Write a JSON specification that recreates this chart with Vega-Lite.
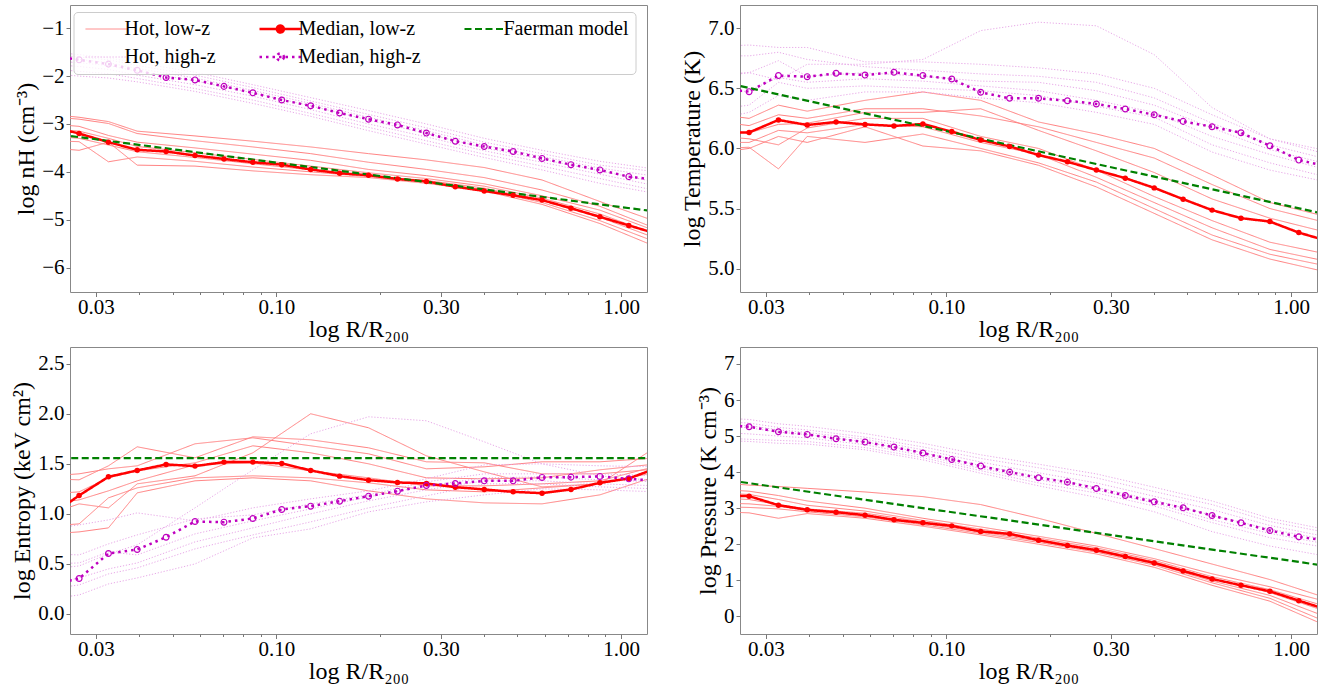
{
"$schema":"https://vega.github.io/schema/vega-lite/v6.json",
"padding":{"left":10,"top":4,"right":5,"bottom":0},
"background":"white",
"config":{
"font":"Liberation Serif",
"view":{"stroke":"#888888","strokeWidth":1},
"axis":{"labelFont":"Liberation Serif","titleFont":"Liberation Serif","labelFontSize":21,"titleFontSize":24,"titleFontWeight":"normal","labelColor":"black","titleColor":"black","domain":false,"grid":false,"tickColor":"#777777"},
"axisX":{"labelPadding":0,"titlePadding":0,"labelFlush":false,"labelOverlap":false},
"axisY":{"labelPadding":2,"titlePadding":3,"tickSize":4},
"legend":{"orient":"none","legendX":3.5,"legendY":7,"columns":3,"columnPadding":38,"rowPadding":8,"padding":7,"strokeColor":"#cccccc","fillColor":"rgba(255,255,255,0.8)","cornerRadius":4,"labelFont":"Liberation Serif","labelFontSize":20,"labelColor":"black","symbolType":"M-1,0H7.34","symbolSize":100,"labelOffset":24,"gridAlign":"each","labelLimit":300}
},
"datasets":{
"n":[
{"s":"a","g":1,"x":0.0221,"y":-2.8},{"s":"a","g":1,"x":0.0268,"y":-2.86},{"s":"a","g":1,"x":0.0326,"y":-2.95},{"s":"a","g":1,"x":0.0395,"y":-3.15},{"s":"a","g":1,"x":0.0581,"y":-3.25},{"s":"a","g":1,"x":0.0855,"y":-3.36},{"s":"a","g":1,"x":0.1258,"y":-3.48},{"s":"a","g":1,"x":0.1851,"y":-3.62},{"s":"a","g":1,"x":0.2723,"y":-3.75},{"s":"a","g":1,"x":0.4007,"y":-3.91},{"s":"a","g":1,"x":0.5895,"y":-4.17},{"s":"a","g":1,"x":0.8674,"y":-4.62},{"s":"a","g":1,"x":1.276,"y":-5.05},
{"s":"a","g":2,"x":0.0221,"y":-2.85},{"s":"a","g":2,"x":0.0268,"y":-2.9},{"s":"a","g":2,"x":0.0326,"y":-2.99},{"s":"a","g":2,"x":0.0395,"y":-3.2},{"s":"a","g":2,"x":0.0581,"y":-3.35},{"s":"a","g":2,"x":0.0855,"y":-3.48},{"s":"a","g":2,"x":0.1258,"y":-3.62},{"s":"a","g":2,"x":0.1851,"y":-3.8},{"s":"a","g":2,"x":0.2723,"y":-3.95},{"s":"a","g":2,"x":0.4007,"y":-4.12},{"s":"a","g":2,"x":0.5895,"y":-4.38},{"s":"a","g":2,"x":0.8674,"y":-4.72},{"s":"a","g":2,"x":1.276,"y":-5.2},
{"s":"a","g":3,"x":0.0221,"y":-3.0},{"s":"a","g":3,"x":0.0268,"y":-3.05},{"s":"a","g":3,"x":0.0326,"y":-3.24},{"s":"a","g":3,"x":0.0395,"y":-3.38},{"s":"a","g":3,"x":0.0581,"y":-3.5},{"s":"a","g":3,"x":0.0855,"y":-3.63},{"s":"a","g":3,"x":0.1258,"y":-3.76},{"s":"a","g":3,"x":0.1851,"y":-3.95},{"s":"a","g":3,"x":0.2723,"y":-4.08},{"s":"a","g":3,"x":0.4007,"y":-4.25},{"s":"a","g":3,"x":0.5895,"y":-4.5},{"s":"a","g":3,"x":0.8674,"y":-4.8},{"s":"a","g":3,"x":1.276,"y":-5.25},
{"s":"a","g":4,"x":0.0221,"y":-3.1},{"s":"a","g":4,"x":0.0268,"y":-3.15},{"s":"a","g":4,"x":0.0326,"y":-3.3},{"s":"a","g":4,"x":0.0395,"y":-3.47},{"s":"a","g":4,"x":0.0581,"y":-3.6},{"s":"a","g":4,"x":0.0855,"y":-3.74},{"s":"a","g":4,"x":0.1258,"y":-3.88},{"s":"a","g":4,"x":0.1851,"y":-4.02},{"s":"a","g":4,"x":0.2723,"y":-4.14},{"s":"a","g":4,"x":0.4007,"y":-4.3},{"s":"a","g":4,"x":0.5895,"y":-4.55},{"s":"a","g":4,"x":0.8674,"y":-4.88},{"s":"a","g":4,"x":1.276,"y":-5.32},
{"s":"a","g":5,"x":0.0221,"y":-3.25},{"s":"a","g":5,"x":0.0268,"y":-3.3},{"s":"a","g":5,"x":0.0326,"y":-3.44},{"s":"a","g":5,"x":0.0395,"y":-3.58},{"s":"a","g":5,"x":0.0581,"y":-3.7},{"s":"a","g":5,"x":0.0855,"y":-3.83},{"s":"a","g":5,"x":0.1258,"y":-3.96},{"s":"a","g":5,"x":0.1851,"y":-4.08},{"s":"a","g":5,"x":0.2723,"y":-4.18},{"s":"a","g":5,"x":0.4007,"y":-4.34},{"s":"a","g":5,"x":0.5895,"y":-4.6},{"s":"a","g":5,"x":0.8674,"y":-4.95},{"s":"a","g":5,"x":1.276,"y":-5.4},
{"s":"a","g":6,"x":0.0221,"y":-3.35},{"s":"a","g":6,"x":0.0268,"y":-3.37},{"s":"a","g":6,"x":0.0326,"y":-3.79},{"s":"a","g":6,"x":0.0395,"y":-3.69},{"s":"a","g":6,"x":0.0581,"y":-3.78},{"s":"a","g":6,"x":0.0855,"y":-3.9},{"s":"a","g":6,"x":0.1258,"y":-4.0},{"s":"a","g":6,"x":0.1851,"y":-4.1},{"s":"a","g":6,"x":0.2723,"y":-4.21},{"s":"a","g":6,"x":0.4007,"y":-4.37},{"s":"a","g":6,"x":0.5895,"y":-4.64},{"s":"a","g":6,"x":0.8674,"y":-5.02},{"s":"a","g":6,"x":1.276,"y":-5.48},
{"s":"a","g":7,"x":0.0221,"y":-3.5},{"s":"a","g":7,"x":0.0268,"y":-3.55},{"s":"a","g":7,"x":0.0326,"y":-3.38},{"s":"a","g":7,"x":0.0395,"y":-3.86},{"s":"a","g":7,"x":0.0581,"y":-3.88},{"s":"a","g":7,"x":0.0855,"y":-3.98},{"s":"a","g":7,"x":0.1258,"y":-4.06},{"s":"a","g":7,"x":0.1851,"y":-4.12},{"s":"a","g":7,"x":0.2723,"y":-4.24},{"s":"a","g":7,"x":0.4007,"y":-4.4},{"s":"a","g":7,"x":0.5895,"y":-4.68},{"s":"a","g":7,"x":0.8674,"y":-5.08},{"s":"a","g":7,"x":1.276,"y":-5.58},
{"s":"d","g":1,"x":0.0221,"y":-1.5},{"s":"d","g":1,"x":0.0268,"y":-1.55},{"s":"d","g":1,"x":0.0326,"y":-1.62},{"s":"d","g":1,"x":0.0395,"y":-1.72},{"s":"d","g":1,"x":0.0581,"y":-1.92},{"s":"d","g":1,"x":0.0855,"y":-2.18},{"s":"d","g":1,"x":0.1258,"y":-2.45},{"s":"d","g":1,"x":0.1851,"y":-2.72},{"s":"d","g":1,"x":0.2723,"y":-3.0},{"s":"d","g":1,"x":0.4007,"y":-3.3},{"s":"d","g":1,"x":0.5895,"y":-3.55},{"s":"d","g":1,"x":0.8674,"y":-3.78},{"s":"d","g":1,"x":1.276,"y":-3.95},
{"s":"d","g":2,"x":0.0221,"y":-1.55},{"s":"d","g":2,"x":0.0268,"y":-1.6},{"s":"d","g":2,"x":0.0326,"y":-1.66},{"s":"d","g":2,"x":0.0395,"y":-1.78},{"s":"d","g":2,"x":0.0581,"y":-1.98},{"s":"d","g":2,"x":0.0855,"y":-2.24},{"s":"d","g":2,"x":0.1258,"y":-2.52},{"s":"d","g":2,"x":0.1851,"y":-2.8},{"s":"d","g":2,"x":0.2723,"y":-3.08},{"s":"d","g":2,"x":0.4007,"y":-3.38},{"s":"d","g":2,"x":0.5895,"y":-3.62},{"s":"d","g":2,"x":0.8674,"y":-3.86},{"s":"d","g":2,"x":1.276,"y":-4.0},
{"s":"d","g":3,"x":0.0221,"y":-1.6},{"s":"d","g":3,"x":0.0268,"y":-1.65},{"s":"d","g":3,"x":0.0326,"y":-1.72},{"s":"d","g":3,"x":0.0395,"y":-1.84},{"s":"d","g":3,"x":0.0581,"y":-2.04},{"s":"d","g":3,"x":0.0855,"y":-2.3},{"s":"d","g":3,"x":0.1258,"y":-2.57},{"s":"d","g":3,"x":0.1851,"y":-2.86},{"s":"d","g":3,"x":0.2723,"y":-3.14},{"s":"d","g":3,"x":0.4007,"y":-3.44},{"s":"d","g":3,"x":0.5895,"y":-3.68},{"s":"d","g":3,"x":0.8674,"y":-3.92},{"s":"d","g":3,"x":1.276,"y":-4.1},
{"s":"d","g":4,"x":0.0221,"y":-1.68},{"s":"d","g":4,"x":0.0268,"y":-1.72},{"s":"d","g":4,"x":0.0326,"y":-1.78},{"s":"d","g":4,"x":0.0395,"y":-1.9},{"s":"d","g":4,"x":0.0581,"y":-2.1},{"s":"d","g":4,"x":0.0855,"y":-2.35},{"s":"d","g":4,"x":0.1258,"y":-2.62},{"s":"d","g":4,"x":0.1851,"y":-2.92},{"s":"d","g":4,"x":0.2723,"y":-3.2},{"s":"d","g":4,"x":0.4007,"y":-3.5},{"s":"d","g":4,"x":0.5895,"y":-3.74},{"s":"d","g":4,"x":0.8674,"y":-3.98},{"s":"d","g":4,"x":1.276,"y":-4.22},
{"s":"d","g":5,"x":0.0221,"y":-1.75},{"s":"d","g":5,"x":0.0268,"y":-1.8},{"s":"d","g":5,"x":0.0326,"y":-1.86},{"s":"d","g":5,"x":0.0395,"y":-1.98},{"s":"d","g":5,"x":0.0581,"y":-2.18},{"s":"d","g":5,"x":0.0855,"y":-2.42},{"s":"d","g":5,"x":0.1258,"y":-2.7},{"s":"d","g":5,"x":0.1851,"y":-3.0},{"s":"d","g":5,"x":0.2723,"y":-3.27},{"s":"d","g":5,"x":0.4007,"y":-3.56},{"s":"d","g":5,"x":0.5895,"y":-3.8},{"s":"d","g":5,"x":0.8674,"y":-4.05},{"s":"d","g":5,"x":1.276,"y":-4.3},
{"s":"d","g":6,"x":0.0221,"y":-1.85},{"s":"d","g":6,"x":0.0268,"y":-1.9},{"s":"d","g":6,"x":0.0326,"y":-1.95},{"s":"d","g":6,"x":0.0395,"y":-2.05},{"s":"d","g":6,"x":0.0581,"y":-2.26},{"s":"d","g":6,"x":0.0855,"y":-2.5},{"s":"d","g":6,"x":0.1258,"y":-2.78},{"s":"d","g":6,"x":0.1851,"y":-3.07},{"s":"d","g":6,"x":0.2723,"y":-3.35},{"s":"d","g":6,"x":0.4007,"y":-3.63},{"s":"d","g":6,"x":0.5895,"y":-3.88},{"s":"d","g":6,"x":0.8674,"y":-4.14},{"s":"d","g":6,"x":1.276,"y":-4.4},
{"s":"d","g":7,"x":0.0221,"y":-1.95},{"s":"d","g":7,"x":0.0268,"y":-2.0},{"s":"d","g":7,"x":0.0326,"y":-2.04},{"s":"d","g":7,"x":0.0395,"y":-2.12},{"s":"d","g":7,"x":0.0581,"y":-2.32},{"s":"d","g":7,"x":0.0855,"y":-2.57},{"s":"d","g":7,"x":0.1258,"y":-2.84},{"s":"d","g":7,"x":0.1851,"y":-3.14},{"s":"d","g":7,"x":0.2723,"y":-3.42},{"s":"d","g":7,"x":0.4007,"y":-3.7},{"s":"d","g":7,"x":0.5895,"y":-3.96},{"s":"d","g":7,"x":0.8674,"y":-4.24},{"s":"d","g":7,"x":1.276,"y":-4.46},
{"s":"b","x":0.0221,"y":-3.05},{"s":"b","x":0.0268,"y":-3.2},{"s":"b","x":0.0326,"y":-3.38},{"s":"b","x":0.0395,"y":-3.54},{"s":"b","x":0.0479,"y":-3.575},{"s":"b","x":0.0581,"y":-3.66},{"s":"b","x":0.0705,"y":-3.73},{"s":"b","x":0.0855,"y":-3.8},{"s":"b","x":0.1037,"y":-3.85},{"s":"b","x":0.1258,"y":-3.95},{"s":"b","x":0.1526,"y":-4.03},{"s":"b","x":0.1851,"y":-4.07},{"s":"b","x":0.2245,"y":-4.15},{"s":"b","x":0.2723,"y":-4.2},{"s":"b","x":0.3303,"y":-4.31},{"s":"b","x":0.4007,"y":-4.4},{"s":"b","x":0.486,"y":-4.49},{"s":"b","x":0.5895,"y":-4.59},{"s":"b","x":0.7151,"y":-4.76},{"s":"b","x":0.8674,"y":-4.94},{"s":"b","x":1.0521,"y":-5.12},{"s":"b","x":1.276,"y":-5.3},
{"s":"e","x":0.0221,"y":-1.57},{"s":"e","x":0.0268,"y":-1.66},{"s":"e","x":0.0326,"y":-1.75},{"s":"e","x":0.0395,"y":-1.88},{"s":"e","x":0.0479,"y":-2.03},{"s":"e","x":0.0581,"y":-2.08},{"s":"e","x":0.0705,"y":-2.215},{"s":"e","x":0.0855,"y":-2.35},{"s":"e","x":0.1037,"y":-2.5},{"s":"e","x":0.1258,"y":-2.62},{"s":"e","x":0.1526,"y":-2.77},{"s":"e","x":0.1851,"y":-2.9},{"s":"e","x":0.2245,"y":-3.02},{"s":"e","x":0.2723,"y":-3.19},{"s":"e","x":0.3303,"y":-3.36},{"s":"e","x":0.4007,"y":-3.47},{"s":"e","x":0.486,"y":-3.575},{"s":"e","x":0.5895,"y":-3.72},{"s":"e","x":0.7151,"y":-3.85},{"s":"e","x":0.8674,"y":-3.96},{"s":"e","x":1.0521,"y":-4.1},{"s":"e","x":1.276,"y":-4.17},
{"s":"c","x":0.0221,"y":-3.197},{"s":"c","x":0.05,"y":-3.527},{"s":"c","x":0.1,"y":-3.807},{"s":"c","x":0.2,"y":-4.087},{"s":"c","x":0.5,"y":-4.457},{"s":"c","x":1.0,"y":-4.737},{"s":"c","x":1.276,"y":-4.835}
],
"t":[
{"s":"a","g":1,"x":0.0221,"y":6.28},{"s":"a","g":1,"x":0.0268,"y":6.25},{"s":"a","g":1,"x":0.0326,"y":6.36},{"s":"a","g":1,"x":0.0395,"y":6.31},{"s":"a","g":1,"x":0.0581,"y":6.4},{"s":"a","g":1,"x":0.0855,"y":6.47},{"s":"a","g":1,"x":0.1258,"y":6.4},{"s":"a","g":1,"x":0.1851,"y":6.22},{"s":"a","g":1,"x":0.2723,"y":6.12},{"s":"a","g":1,"x":0.4007,"y":6.0},{"s":"a","g":1,"x":0.5895,"y":5.78},{"s":"a","g":1,"x":0.8674,"y":5.55},{"s":"a","g":1,"x":1.276,"y":5.43},
{"s":"a","g":2,"x":0.0221,"y":6.22},{"s":"a","g":2,"x":0.0268,"y":6.19},{"s":"a","g":2,"x":0.0326,"y":6.28},{"s":"a","g":2,"x":0.0395,"y":6.25},{"s":"a","g":2,"x":0.0581,"y":6.33},{"s":"a","g":2,"x":0.0855,"y":6.33},{"s":"a","g":2,"x":0.1258,"y":6.27},{"s":"a","g":2,"x":0.1851,"y":6.18},{"s":"a","g":2,"x":0.2723,"y":6.05},{"s":"a","g":2,"x":0.4007,"y":5.92},{"s":"a","g":2,"x":0.5895,"y":5.7},{"s":"a","g":2,"x":0.8674,"y":5.5},{"s":"a","g":2,"x":1.276,"y":5.38},
{"s":"a","g":3,"x":0.0221,"y":6.15},{"s":"a","g":3,"x":0.0268,"y":6.13},{"s":"a","g":3,"x":0.0326,"y":6.2},{"s":"a","g":3,"x":0.0395,"y":6.21},{"s":"a","g":3,"x":0.0581,"y":6.3},{"s":"a","g":3,"x":0.0855,"y":6.3},{"s":"a","g":3,"x":0.1258,"y":6.33},{"s":"a","g":3,"x":0.1851,"y":6.15},{"s":"a","g":3,"x":0.2723,"y":5.98},{"s":"a","g":3,"x":0.4007,"y":5.8},{"s":"a","g":3,"x":0.5895,"y":5.58},{"s":"a","g":3,"x":0.8674,"y":5.42},{"s":"a","g":3,"x":1.276,"y":5.3},
{"s":"a","g":4,"x":0.0221,"y":6.1},{"s":"a","g":4,"x":0.0268,"y":6.08},{"s":"a","g":4,"x":0.0326,"y":6.03},{"s":"a","g":4,"x":0.0395,"y":6.17},{"s":"a","g":4,"x":0.0581,"y":6.25},{"s":"a","g":4,"x":0.0855,"y":6.25},{"s":"a","g":4,"x":0.1258,"y":6.1},{"s":"a","g":4,"x":0.1851,"y":6.0},{"s":"a","g":4,"x":0.2723,"y":5.82},{"s":"a","g":4,"x":0.4007,"y":5.6},{"s":"a","g":4,"x":0.5895,"y":5.4},{"s":"a","g":4,"x":0.8674,"y":5.22},{"s":"a","g":4,"x":1.276,"y":5.12},
{"s":"a","g":5,"x":0.0221,"y":6.05},{"s":"a","g":5,"x":0.0268,"y":6.05},{"s":"a","g":5,"x":0.0326,"y":6.15},{"s":"a","g":5,"x":0.0395,"y":6.13},{"s":"a","g":5,"x":0.0581,"y":6.2},{"s":"a","g":5,"x":0.0855,"y":6.18},{"s":"a","g":5,"x":0.1258,"y":6.05},{"s":"a","g":5,"x":0.1851,"y":5.95},{"s":"a","g":5,"x":0.2723,"y":5.76},{"s":"a","g":5,"x":0.4007,"y":5.55},{"s":"a","g":5,"x":0.5895,"y":5.34},{"s":"a","g":5,"x":0.8674,"y":5.16},{"s":"a","g":5,"x":1.276,"y":5.06},
{"s":"a","g":6,"x":0.0221,"y":6.0},{"s":"a","g":6,"x":0.0268,"y":6.01},{"s":"a","g":6,"x":0.0326,"y":5.83},{"s":"a","g":6,"x":0.0395,"y":6.1},{"s":"a","g":6,"x":0.0581,"y":6.05},{"s":"a","g":6,"x":0.0855,"y":6.12},{"s":"a","g":6,"x":0.1258,"y":6.0},{"s":"a","g":6,"x":0.1851,"y":5.88},{"s":"a","g":6,"x":0.2723,"y":5.72},{"s":"a","g":6,"x":0.4007,"y":5.5},{"s":"a","g":6,"x":0.5895,"y":5.28},{"s":"a","g":6,"x":0.8674,"y":5.12},{"s":"a","g":6,"x":1.276,"y":5.02},
{"s":"a","g":7,"x":0.0221,"y":5.97},{"s":"a","g":7,"x":0.0268,"y":6.0},{"s":"a","g":7,"x":0.0326,"y":6.1},{"s":"a","g":7,"x":0.0395,"y":6.05},{"s":"a","g":7,"x":0.0581,"y":6.18},{"s":"a","g":7,"x":0.0855,"y":6.02},{"s":"a","g":7,"x":0.1258,"y":5.98},{"s":"a","g":7,"x":0.1851,"y":5.86},{"s":"a","g":7,"x":0.2723,"y":5.68},{"s":"a","g":7,"x":0.4007,"y":5.46},{"s":"a","g":7,"x":0.5895,"y":5.24},{"s":"a","g":7,"x":0.8674,"y":5.08},{"s":"a","g":7,"x":1.276,"y":4.97},
{"s":"d","g":1,"x":0.0221,"y":6.62},{"s":"d","g":1,"x":0.0268,"y":6.63},{"s":"d","g":1,"x":0.0326,"y":6.57},{"s":"d","g":1,"x":0.0395,"y":6.7},{"s":"d","g":1,"x":0.0581,"y":6.7},{"s":"d","g":1,"x":0.0855,"y":6.74},{"s":"d","g":1,"x":0.1258,"y":6.98},{"s":"d","g":1,"x":0.1851,"y":7.05},{"s":"d","g":1,"x":0.2723,"y":7.02},{"s":"d","g":1,"x":0.4007,"y":6.78},{"s":"d","g":1,"x":0.5895,"y":6.34},{"s":"d","g":1,"x":0.8674,"y":6.08},{"s":"d","g":1,"x":1.276,"y":5.98},
{"s":"d","g":2,"x":0.0221,"y":6.85},{"s":"d","g":2,"x":0.0268,"y":6.86},{"s":"d","g":2,"x":0.0326,"y":6.84},{"s":"d","g":2,"x":0.0395,"y":6.84},{"s":"d","g":2,"x":0.0581,"y":6.72},{"s":"d","g":2,"x":0.0855,"y":6.72},{"s":"d","g":2,"x":0.1258,"y":6.7},{"s":"d","g":2,"x":0.1851,"y":6.67},{"s":"d","g":2,"x":0.2723,"y":6.62},{"s":"d","g":2,"x":0.4007,"y":6.5},{"s":"d","g":2,"x":0.5895,"y":6.28},{"s":"d","g":2,"x":0.8674,"y":6.08},{"s":"d","g":2,"x":1.276,"y":5.95},
{"s":"d","g":3,"x":0.0221,"y":6.77},{"s":"d","g":3,"x":0.0268,"y":6.77},{"s":"d","g":3,"x":0.0326,"y":6.8},{"s":"d","g":3,"x":0.0395,"y":6.74},{"s":"d","g":3,"x":0.0581,"y":6.68},{"s":"d","g":3,"x":0.0855,"y":6.65},{"s":"d","g":3,"x":0.1258,"y":6.62},{"s":"d","g":3,"x":0.1851,"y":6.6},{"s":"d","g":3,"x":0.2723,"y":6.55},{"s":"d","g":3,"x":0.4007,"y":6.42},{"s":"d","g":3,"x":0.5895,"y":6.21},{"s":"d","g":3,"x":0.8674,"y":6.03},{"s":"d","g":3,"x":1.276,"y":5.91},
{"s":"d","g":4,"x":0.0221,"y":6.6},{"s":"d","g":4,"x":0.0268,"y":6.63},{"s":"d","g":4,"x":0.0326,"y":6.73},{"s":"d","g":4,"x":0.0395,"y":6.6},{"s":"d","g":4,"x":0.0581,"y":6.63},{"s":"d","g":4,"x":0.0855,"y":6.6},{"s":"d","g":4,"x":0.1258,"y":6.56},{"s":"d","g":4,"x":0.1851,"y":6.55},{"s":"d","g":4,"x":0.2723,"y":6.48},{"s":"d","g":4,"x":0.4007,"y":6.36},{"s":"d","g":4,"x":0.5895,"y":6.17},{"s":"d","g":4,"x":0.8674,"y":5.99},{"s":"d","g":4,"x":1.276,"y":5.87},
{"s":"d","g":5,"x":0.0221,"y":6.45},{"s":"d","g":5,"x":0.0268,"y":6.48},{"s":"d","g":5,"x":0.0326,"y":6.59},{"s":"d","g":5,"x":0.0395,"y":6.55},{"s":"d","g":5,"x":0.0581,"y":6.58},{"s":"d","g":5,"x":0.0855,"y":6.56},{"s":"d","g":5,"x":0.1258,"y":6.52},{"s":"d","g":5,"x":0.1851,"y":6.48},{"s":"d","g":5,"x":0.2723,"y":6.4},{"s":"d","g":5,"x":0.4007,"y":6.3},{"s":"d","g":5,"x":0.5895,"y":6.1},{"s":"d","g":5,"x":0.8674,"y":5.95},{"s":"d","g":5,"x":1.276,"y":5.82},
{"s":"d","g":6,"x":0.0221,"y":6.33},{"s":"d","g":6,"x":0.0268,"y":6.36},{"s":"d","g":6,"x":0.0326,"y":6.55},{"s":"d","g":6,"x":0.0395,"y":6.5},{"s":"d","g":6,"x":0.0581,"y":6.52},{"s":"d","g":6,"x":0.0855,"y":6.5},{"s":"d","g":6,"x":0.1258,"y":6.48},{"s":"d","g":6,"x":0.1851,"y":6.44},{"s":"d","g":6,"x":0.2723,"y":6.35},{"s":"d","g":6,"x":0.4007,"y":6.26},{"s":"d","g":6,"x":0.5895,"y":6.03},{"s":"d","g":6,"x":0.8674,"y":5.88},{"s":"d","g":6,"x":1.276,"y":5.76},
{"s":"d","g":7,"x":0.0221,"y":6.25},{"s":"d","g":7,"x":0.0268,"y":6.3},{"s":"d","g":7,"x":0.0326,"y":6.44},{"s":"d","g":7,"x":0.0395,"y":6.4},{"s":"d","g":7,"x":0.0581,"y":6.47},{"s":"d","g":7,"x":0.0855,"y":6.47},{"s":"d","g":7,"x":0.1258,"y":6.42},{"s":"d","g":7,"x":0.1851,"y":6.38},{"s":"d","g":7,"x":0.2723,"y":6.3},{"s":"d","g":7,"x":0.4007,"y":6.2},{"s":"d","g":7,"x":0.5895,"y":5.97},{"s":"d","g":7,"x":0.8674,"y":5.82},{"s":"d","g":7,"x":1.276,"y":5.72},
{"s":"b","x":0.0221,"y":6.13},{"s":"b","x":0.0268,"y":6.133},{"s":"b","x":0.0326,"y":6.237},{"s":"b","x":0.0395,"y":6.195},{"s":"b","x":0.0479,"y":6.22},{"s":"b","x":0.0581,"y":6.2},{"s":"b","x":0.0705,"y":6.187},{"s":"b","x":0.0855,"y":6.203},{"s":"b","x":0.1037,"y":6.14},{"s":"b","x":0.1258,"y":6.07},{"s":"b","x":0.1526,"y":6.017},{"s":"b","x":0.1851,"y":5.945},{"s":"b","x":0.2245,"y":5.889},{"s":"b","x":0.2723,"y":5.82},{"s":"b","x":0.3303,"y":5.753},{"s":"b","x":0.4007,"y":5.672},{"s":"b","x":0.486,"y":5.578},{"s":"b","x":0.5895,"y":5.487},{"s":"b","x":0.7151,"y":5.42},{"s":"b","x":0.8674,"y":5.392},{"s":"b","x":1.0521,"y":5.3},{"s":"b","x":1.276,"y":5.23},
{"s":"e","x":0.0221,"y":6.5},{"s":"e","x":0.0268,"y":6.472},{"s":"e","x":0.0326,"y":6.606},{"s":"e","x":0.0395,"y":6.597},{"s":"e","x":0.0479,"y":6.625},{"s":"e","x":0.0581,"y":6.61},{"s":"e","x":0.0705,"y":6.633},{"s":"e","x":0.0855,"y":6.606},{"s":"e","x":0.1037,"y":6.578},{"s":"e","x":0.1258,"y":6.467},{"s":"e","x":0.1526,"y":6.417},{"s":"e","x":0.1851,"y":6.417},{"s":"e","x":0.2245,"y":6.397},{"s":"e","x":0.2723,"y":6.37},{"s":"e","x":0.3303,"y":6.328},{"s":"e","x":0.4007,"y":6.28},{"s":"e","x":0.486,"y":6.225},{"s":"e","x":0.5895,"y":6.18},{"s":"e","x":0.7151,"y":6.13},{"s":"e","x":0.8674,"y":6.022},{"s":"e","x":1.0521,"y":5.903},{"s":"e","x":1.276,"y":5.85},
{"s":"c","x":0.0221,"y":6.556},{"s":"c","x":0.05,"y":6.333},{"s":"c","x":0.1,"y":6.144},{"s":"c","x":0.2,"y":5.955},{"s":"c","x":0.5,"y":5.705},{"s":"c","x":1.0,"y":5.516},{"s":"c","x":1.276,"y":5.449}
],
"k":[
{"s":"a","g":1,"x":0.0221,"y":1.0},{"s":"a","g":1,"x":0.0268,"y":1.1},{"s":"a","g":1,"x":0.0326,"y":1.06},{"s":"a","g":1,"x":0.0395,"y":1.3},{"s":"a","g":1,"x":0.0581,"y":1.38},{"s":"a","g":1,"x":0.0855,"y":1.61},{"s":"a","g":1,"x":0.1258,"y":2.0},{"s":"a","g":1,"x":0.1851,"y":1.86},{"s":"a","g":1,"x":0.2723,"y":1.58},{"s":"a","g":1,"x":0.4007,"y":1.42},{"s":"a","g":1,"x":0.5895,"y":1.27},{"s":"a","g":1,"x":0.8674,"y":1.3},{"s":"a","g":1,"x":1.276,"y":1.68},
{"s":"a","g":2,"x":0.0221,"y":1.35},{"s":"a","g":2,"x":0.0268,"y":1.34},{"s":"a","g":2,"x":0.0326,"y":1.48},{"s":"a","g":2,"x":0.0395,"y":1.67},{"s":"a","g":2,"x":0.0581,"y":1.56},{"s":"a","g":2,"x":0.0855,"y":1.77},{"s":"a","g":2,"x":0.1258,"y":1.74},{"s":"a","g":2,"x":0.1851,"y":1.66},{"s":"a","g":2,"x":0.2723,"y":1.52},{"s":"a","g":2,"x":0.4007,"y":1.51},{"s":"a","g":2,"x":0.5895,"y":1.4},{"s":"a","g":2,"x":0.8674,"y":1.4},{"s":"a","g":2,"x":1.276,"y":1.45},
{"s":"a","g":3,"x":0.0221,"y":1.38},{"s":"a","g":3,"x":0.0268,"y":1.4},{"s":"a","g":3,"x":0.0326,"y":1.45},{"s":"a","g":3,"x":0.0395,"y":1.48},{"s":"a","g":3,"x":0.0581,"y":1.7},{"s":"a","g":3,"x":0.0855,"y":1.76},{"s":"a","g":3,"x":0.1258,"y":1.68},{"s":"a","g":3,"x":0.1851,"y":1.6},{"s":"a","g":3,"x":0.2723,"y":1.45},{"s":"a","g":3,"x":0.4007,"y":1.47},{"s":"a","g":3,"x":0.5895,"y":1.52},{"s":"a","g":3,"x":0.8674,"y":1.52},{"s":"a","g":3,"x":1.276,"y":1.56},
{"s":"a","g":4,"x":0.0221,"y":1.2},{"s":"a","g":4,"x":0.0268,"y":1.22},{"s":"a","g":4,"x":0.0326,"y":1.36},{"s":"a","g":4,"x":0.0395,"y":1.43},{"s":"a","g":4,"x":0.0581,"y":1.51},{"s":"a","g":4,"x":0.0855,"y":1.68},{"s":"a","g":4,"x":0.1258,"y":1.61},{"s":"a","g":4,"x":0.1851,"y":1.5},{"s":"a","g":4,"x":0.2723,"y":1.36},{"s":"a","g":4,"x":0.4007,"y":1.35},{"s":"a","g":4,"x":0.5895,"y":1.36},{"s":"a","g":4,"x":0.8674,"y":1.44},{"s":"a","g":4,"x":1.276,"y":1.5},
{"s":"a","g":5,"x":0.0221,"y":1.1},{"s":"a","g":5,"x":0.0268,"y":1.14},{"s":"a","g":5,"x":0.0326,"y":1.23},{"s":"a","g":5,"x":0.0395,"y":1.33},{"s":"a","g":5,"x":0.0581,"y":1.49},{"s":"a","g":5,"x":0.0855,"y":1.51},{"s":"a","g":5,"x":0.1258,"y":1.43},{"s":"a","g":5,"x":0.1851,"y":1.36},{"s":"a","g":5,"x":0.2723,"y":1.28},{"s":"a","g":5,"x":0.4007,"y":1.28},{"s":"a","g":5,"x":0.5895,"y":1.3},{"s":"a","g":5,"x":0.8674,"y":1.33},{"s":"a","g":5,"x":1.276,"y":1.48},
{"s":"a","g":6,"x":0.0221,"y":0.88},{"s":"a","g":6,"x":0.0268,"y":0.9},{"s":"a","g":6,"x":0.0326,"y":1.16},{"s":"a","g":6,"x":0.0395,"y":1.26},{"s":"a","g":6,"x":0.0581,"y":1.36},{"s":"a","g":6,"x":0.0855,"y":1.38},{"s":"a","g":6,"x":0.1258,"y":1.36},{"s":"a","g":6,"x":0.1851,"y":1.31},{"s":"a","g":6,"x":0.2723,"y":1.24},{"s":"a","g":6,"x":0.4007,"y":1.22},{"s":"a","g":6,"x":0.5895,"y":1.26},{"s":"a","g":6,"x":0.8674,"y":1.3},{"s":"a","g":6,"x":1.276,"y":1.42},
{"s":"a","g":7,"x":0.0221,"y":0.8},{"s":"a","g":7,"x":0.0268,"y":0.82},{"s":"a","g":7,"x":0.0326,"y":0.86},{"s":"a","g":7,"x":0.0395,"y":1.21},{"s":"a","g":7,"x":0.0581,"y":1.33},{"s":"a","g":7,"x":0.0855,"y":1.36},{"s":"a","g":7,"x":0.1258,"y":1.33},{"s":"a","g":7,"x":0.1851,"y":1.23},{"s":"a","g":7,"x":0.2723,"y":1.15},{"s":"a","g":7,"x":0.4007,"y":1.11},{"s":"a","g":7,"x":0.5895,"y":1.1},{"s":"a","g":7,"x":0.8674,"y":1.19},{"s":"a","g":7,"x":1.276,"y":1.38},
{"s":"d","g":1,"x":0.0221,"y":0.45},{"s":"d","g":1,"x":0.0268,"y":0.48},{"s":"d","g":1,"x":0.0326,"y":0.6},{"s":"d","g":1,"x":0.0395,"y":0.69},{"s":"d","g":1,"x":0.0581,"y":1.06},{"s":"d","g":1,"x":0.0855,"y":1.44},{"s":"d","g":1,"x":0.1258,"y":1.8},{"s":"d","g":1,"x":0.1851,"y":1.97},{"s":"d","g":1,"x":0.2723,"y":1.93},{"s":"d","g":1,"x":0.4007,"y":1.72},{"s":"d","g":1,"x":0.5895,"y":1.5},{"s":"d","g":1,"x":0.8674,"y":1.38},{"s":"d","g":1,"x":1.276,"y":1.33},
{"s":"d","g":2,"x":0.0221,"y":0.85},{"s":"d","g":2,"x":0.0268,"y":0.89},{"s":"d","g":2,"x":0.0326,"y":0.94},{"s":"d","g":2,"x":0.0395,"y":1.01},{"s":"d","g":2,"x":0.0581,"y":0.93},{"s":"d","g":2,"x":0.0855,"y":1.06},{"s":"d","g":2,"x":0.1258,"y":1.15},{"s":"d","g":2,"x":0.1851,"y":1.23},{"s":"d","g":2,"x":0.2723,"y":1.35},{"s":"d","g":2,"x":0.4007,"y":1.49},{"s":"d","g":2,"x":0.5895,"y":1.5},{"s":"d","g":2,"x":0.8674,"y":1.48},{"s":"d","g":2,"x":1.276,"y":1.47},
{"s":"d","g":3,"x":0.0221,"y":0.6},{"s":"d","g":3,"x":0.0268,"y":0.59},{"s":"d","g":3,"x":0.0326,"y":0.7},{"s":"d","g":3,"x":0.0395,"y":0.79},{"s":"d","g":3,"x":0.0581,"y":0.95},{"s":"d","g":3,"x":0.0855,"y":0.99},{"s":"d","g":3,"x":0.1258,"y":1.1},{"s":"d","g":3,"x":0.1851,"y":1.19},{"s":"d","g":3,"x":0.2723,"y":1.32},{"s":"d","g":3,"x":0.4007,"y":1.4},{"s":"d","g":3,"x":0.5895,"y":1.4},{"s":"d","g":3,"x":0.8674,"y":1.4},{"s":"d","g":3,"x":1.276,"y":1.38},
{"s":"d","g":4,"x":0.0221,"y":0.5},{"s":"d","g":4,"x":0.0268,"y":0.51},{"s":"d","g":4,"x":0.0326,"y":0.62},{"s":"d","g":4,"x":0.0395,"y":0.59},{"s":"d","g":4,"x":0.0581,"y":0.8},{"s":"d","g":4,"x":0.0855,"y":0.93},{"s":"d","g":4,"x":0.1258,"y":1.05},{"s":"d","g":4,"x":0.1851,"y":1.17},{"s":"d","g":4,"x":0.2723,"y":1.28},{"s":"d","g":4,"x":0.4007,"y":1.36},{"s":"d","g":4,"x":0.5895,"y":1.37},{"s":"d","g":4,"x":0.8674,"y":1.34},{"s":"d","g":4,"x":1.276,"y":1.32},
{"s":"d","g":5,"x":0.0221,"y":0.3},{"s":"d","g":5,"x":0.0268,"y":0.36},{"s":"d","g":5,"x":0.0326,"y":0.45},{"s":"d","g":5,"x":0.0395,"y":0.51},{"s":"d","g":5,"x":0.0581,"y":0.72},{"s":"d","g":5,"x":0.0855,"y":0.86},{"s":"d","g":5,"x":0.1258,"y":1.0},{"s":"d","g":5,"x":0.1851,"y":1.13},{"s":"d","g":5,"x":0.2723,"y":1.24},{"s":"d","g":5,"x":0.4007,"y":1.33},{"s":"d","g":5,"x":0.5895,"y":1.33},{"s":"d","g":5,"x":0.8674,"y":1.3},{"s":"d","g":5,"x":1.276,"y":1.28},
{"s":"d","g":6,"x":0.0221,"y":0.25},{"s":"d","g":6,"x":0.0268,"y":0.29},{"s":"d","g":6,"x":0.0326,"y":0.4},{"s":"d","g":6,"x":0.0395,"y":0.46},{"s":"d","g":6,"x":0.0581,"y":0.65},{"s":"d","g":6,"x":0.0855,"y":0.79},{"s":"d","g":6,"x":0.1258,"y":0.92},{"s":"d","g":6,"x":0.1851,"y":1.06},{"s":"d","g":6,"x":0.2723,"y":1.18},{"s":"d","g":6,"x":0.4007,"y":1.3},{"s":"d","g":6,"x":0.5895,"y":1.3},{"s":"d","g":6,"x":0.8674,"y":1.27},{"s":"d","g":6,"x":1.276,"y":1.25},
{"s":"d","g":7,"x":0.0221,"y":0.15},{"s":"d","g":7,"x":0.0268,"y":0.19},{"s":"d","g":7,"x":0.0326,"y":0.3},{"s":"d","g":7,"x":0.0395,"y":0.36},{"s":"d","g":7,"x":0.0581,"y":0.5},{"s":"d","g":7,"x":0.0855,"y":0.76},{"s":"d","g":7,"x":0.1258,"y":0.85},{"s":"d","g":7,"x":0.1851,"y":1.02},{"s":"d","g":7,"x":0.2723,"y":1.12},{"s":"d","g":7,"x":0.4007,"y":1.19},{"s":"d","g":7,"x":0.5895,"y":1.25},{"s":"d","g":7,"x":0.8674,"y":1.24},{"s":"d","g":7,"x":1.276,"y":1.22},
{"s":"b","x":0.0221,"y":0.98},{"s":"b","x":0.0268,"y":1.184},{"s":"b","x":0.0326,"y":1.37},{"s":"b","x":0.0395,"y":1.434},{"s":"b","x":0.0479,"y":1.494},{"s":"b","x":0.0581,"y":1.477},{"s":"b","x":0.0705,"y":1.517},{"s":"b","x":0.0855,"y":1.517},{"s":"b","x":0.1037,"y":1.504},{"s":"b","x":0.1258,"y":1.434},{"s":"b","x":0.1526,"y":1.377},{"s":"b","x":0.1851,"y":1.337},{"s":"b","x":0.2245,"y":1.314},{"s":"b","x":0.2723,"y":1.304},{"s":"b","x":0.3303,"y":1.267},{"s":"b","x":0.4007,"y":1.244},{"s":"b","x":0.486,"y":1.22},{"s":"b","x":0.5895,"y":1.207},{"s":"b","x":0.7151,"y":1.244},{"s":"b","x":0.8674,"y":1.31},{"s":"b","x":1.0521,"y":1.354},{"s":"b","x":1.276,"y":1.46},
{"s":"e","x":0.0221,"y":0.29},{"s":"e","x":0.0268,"y":0.354},{"s":"e","x":0.0326,"y":0.604},{"s":"e","x":0.0395,"y":0.644},{"s":"e","x":0.0479,"y":0.767},{"s":"e","x":0.0581,"y":0.924},{"s":"e","x":0.0705,"y":0.917},{"s":"e","x":0.0855,"y":0.954},{"s":"e","x":0.1037,"y":1.044},{"s":"e","x":0.1258,"y":1.077},{"s":"e","x":0.1526,"y":1.127},{"s":"e","x":0.1851,"y":1.177},{"s":"e","x":0.2245,"y":1.227},{"s":"e","x":0.2723,"y":1.284},{"s":"e","x":0.3303,"y":1.304},{"s":"e","x":0.4007,"y":1.33},{"s":"e","x":0.486,"y":1.33},{"s":"e","x":0.5895,"y":1.364},{"s":"e","x":0.7151,"y":1.367},{"s":"e","x":0.8674,"y":1.374},{"s":"e","x":1.0521,"y":1.35},{"s":"e","x":1.276,"y":1.33},
{"s":"c","x":0.0221,"y":1.557},{"s":"c","x":0.1,"y":1.557},{"s":"c","x":1.276,"y":1.557}
],
"p":[
{"s":"a","g":1,"x":0.0221,"y":3.7},{"s":"a","g":1,"x":0.0268,"y":3.64},{"s":"a","g":1,"x":0.0326,"y":3.6},{"s":"a","g":1,"x":0.0395,"y":3.55},{"s":"a","g":1,"x":0.0581,"y":3.45},{"s":"a","g":1,"x":0.0855,"y":3.32},{"s":"a","g":1,"x":0.1258,"y":3.1},{"s":"a","g":1,"x":0.1851,"y":2.72},{"s":"a","g":1,"x":0.2723,"y":2.3},{"s":"a","g":1,"x":0.4007,"y":1.88},{"s":"a","g":1,"x":0.5895,"y":1.45},{"s":"a","g":1,"x":0.8674,"y":1.02},{"s":"a","g":1,"x":1.276,"y":0.5},
{"s":"a","g":2,"x":0.0221,"y":3.52},{"s":"a","g":2,"x":0.0268,"y":3.47},{"s":"a","g":2,"x":0.0326,"y":3.35},{"s":"a","g":2,"x":0.0395,"y":3.2},{"s":"a","g":2,"x":0.0581,"y":3.0},{"s":"a","g":2,"x":0.0855,"y":2.72},{"s":"a","g":2,"x":0.1258,"y":2.48},{"s":"a","g":2,"x":0.1851,"y":2.22},{"s":"a","g":2,"x":0.2723,"y":1.95},{"s":"a","g":2,"x":0.4007,"y":1.6},{"s":"a","g":2,"x":0.5895,"y":1.18},{"s":"a","g":2,"x":0.8674,"y":0.82},{"s":"a","g":2,"x":1.276,"y":0.4},
{"s":"a","g":3,"x":0.0221,"y":3.42},{"s":"a","g":3,"x":0.0268,"y":3.38},{"s":"a","g":3,"x":0.0326,"y":3.24},{"s":"a","g":3,"x":0.0395,"y":3.08},{"s":"a","g":3,"x":0.0581,"y":2.92},{"s":"a","g":3,"x":0.0855,"y":2.66},{"s":"a","g":3,"x":0.1258,"y":2.42},{"s":"a","g":3,"x":0.1851,"y":2.17},{"s":"a","g":3,"x":0.2723,"y":1.9},{"s":"a","g":3,"x":0.4007,"y":1.55},{"s":"a","g":3,"x":0.5895,"y":1.1},{"s":"a","g":3,"x":0.8674,"y":0.74},{"s":"a","g":3,"x":1.276,"y":0.26},
{"s":"a","g":4,"x":0.0221,"y":3.28},{"s":"a","g":4,"x":0.0268,"y":3.24},{"s":"a","g":4,"x":0.0326,"y":3.1},{"s":"a","g":4,"x":0.0395,"y":2.98},{"s":"a","g":4,"x":0.0581,"y":2.86},{"s":"a","g":4,"x":0.0855,"y":2.62},{"s":"a","g":4,"x":0.1258,"y":2.38},{"s":"a","g":4,"x":0.1851,"y":2.13},{"s":"a","g":4,"x":0.2723,"y":1.86},{"s":"a","g":4,"x":0.4007,"y":1.51},{"s":"a","g":4,"x":0.5895,"y":1.05},{"s":"a","g":4,"x":0.8674,"y":0.66},{"s":"a","g":4,"x":1.276,"y":0.12},
{"s":"a","g":5,"x":0.0221,"y":3.14},{"s":"a","g":5,"x":0.0268,"y":3.12},{"s":"a","g":5,"x":0.0326,"y":3.05},{"s":"a","g":5,"x":0.0395,"y":2.94},{"s":"a","g":5,"x":0.0581,"y":2.8},{"s":"a","g":5,"x":0.0855,"y":2.58},{"s":"a","g":5,"x":0.1258,"y":2.34},{"s":"a","g":5,"x":0.1851,"y":2.09},{"s":"a","g":5,"x":0.2723,"y":1.82},{"s":"a","g":5,"x":0.4007,"y":1.46},{"s":"a","g":5,"x":0.5895,"y":0.98},{"s":"a","g":5,"x":0.8674,"y":0.58},{"s":"a","g":5,"x":1.276,"y":-0.03},
{"s":"a","g":6,"x":0.0221,"y":3.04},{"s":"a","g":6,"x":0.0268,"y":3.02},{"s":"a","g":6,"x":0.0326,"y":2.98},{"s":"a","g":6,"x":0.0395,"y":2.9},{"s":"a","g":6,"x":0.0581,"y":2.76},{"s":"a","g":6,"x":0.0855,"y":2.54},{"s":"a","g":6,"x":0.1258,"y":2.3},{"s":"a","g":6,"x":0.1851,"y":2.05},{"s":"a","g":6,"x":0.2723,"y":1.78},{"s":"a","g":6,"x":0.4007,"y":1.42},{"s":"a","g":6,"x":0.5895,"y":0.93},{"s":"a","g":6,"x":0.8674,"y":0.5},{"s":"a","g":6,"x":1.276,"y":-0.17},
{"s":"a","g":7,"x":0.0221,"y":2.9},{"s":"a","g":7,"x":0.0268,"y":2.87},{"s":"a","g":7,"x":0.0326,"y":2.72},{"s":"a","g":7,"x":0.0395,"y":2.85},{"s":"a","g":7,"x":0.0581,"y":2.72},{"s":"a","g":7,"x":0.0855,"y":2.5},{"s":"a","g":7,"x":0.1258,"y":2.26},{"s":"a","g":7,"x":0.1851,"y":2.0},{"s":"a","g":7,"x":0.2723,"y":1.73},{"s":"a","g":7,"x":0.4007,"y":1.36},{"s":"a","g":7,"x":0.5895,"y":0.86},{"s":"a","g":7,"x":0.8674,"y":0.42},{"s":"a","g":7,"x":1.276,"y":-0.28},
{"s":"d","g":1,"x":0.0221,"y":5.5},{"s":"d","g":1,"x":0.0268,"y":5.46},{"s":"d","g":1,"x":0.0326,"y":5.34},{"s":"d","g":1,"x":0.0395,"y":5.27},{"s":"d","g":1,"x":0.0581,"y":5.07},{"s":"d","g":1,"x":0.0855,"y":4.8},{"s":"d","g":1,"x":0.1258,"y":4.48},{"s":"d","g":1,"x":0.1851,"y":4.22},{"s":"d","g":1,"x":0.2723,"y":3.95},{"s":"d","g":1,"x":0.4007,"y":3.58},{"s":"d","g":1,"x":0.5895,"y":3.2},{"s":"d","g":1,"x":0.8674,"y":2.72},{"s":"d","g":1,"x":1.276,"y":2.4},
{"s":"d","g":2,"x":0.0221,"y":5.4},{"s":"d","g":2,"x":0.0268,"y":5.36},{"s":"d","g":2,"x":0.0326,"y":5.24},{"s":"d","g":2,"x":0.0395,"y":5.17},{"s":"d","g":2,"x":0.0581,"y":4.97},{"s":"d","g":2,"x":0.0855,"y":4.7},{"s":"d","g":2,"x":0.1258,"y":4.38},{"s":"d","g":2,"x":0.1851,"y":4.12},{"s":"d","g":2,"x":0.2723,"y":3.84},{"s":"d","g":2,"x":0.4007,"y":3.46},{"s":"d","g":2,"x":0.5895,"y":3.1},{"s":"d","g":2,"x":0.8674,"y":2.63},{"s":"d","g":2,"x":1.276,"y":2.32},
{"s":"d","g":3,"x":0.0221,"y":5.33},{"s":"d","g":3,"x":0.0268,"y":5.29},{"s":"d","g":3,"x":0.0326,"y":5.17},{"s":"d","g":3,"x":0.0395,"y":5.1},{"s":"d","g":3,"x":0.0581,"y":4.91},{"s":"d","g":3,"x":0.0855,"y":4.62},{"s":"d","g":3,"x":0.1258,"y":4.28},{"s":"d","g":3,"x":0.1851,"y":3.98},{"s":"d","g":3,"x":0.2723,"y":3.7},{"s":"d","g":3,"x":0.4007,"y":3.33},{"s":"d","g":3,"x":0.5895,"y":2.96},{"s":"d","g":3,"x":0.8674,"y":2.52},{"s":"d","g":3,"x":1.276,"y":2.2},
{"s":"d","g":4,"x":0.0221,"y":5.27},{"s":"d","g":4,"x":0.0268,"y":5.23},{"s":"d","g":4,"x":0.0326,"y":5.11},{"s":"d","g":4,"x":0.0395,"y":5.04},{"s":"d","g":4,"x":0.0581,"y":4.84},{"s":"d","g":4,"x":0.0855,"y":4.54},{"s":"d","g":4,"x":0.1258,"y":4.18},{"s":"d","g":4,"x":0.1851,"y":3.88},{"s":"d","g":4,"x":0.2723,"y":3.58},{"s":"d","g":4,"x":0.4007,"y":3.22},{"s":"d","g":4,"x":0.5895,"y":2.8},{"s":"d","g":4,"x":0.8674,"y":2.42},{"s":"d","g":4,"x":1.276,"y":2.12},
{"s":"d","g":5,"x":0.0221,"y":5.1},{"s":"d","g":5,"x":0.0268,"y":5.06},{"s":"d","g":5,"x":0.0326,"y":5.0},{"s":"d","g":5,"x":0.0395,"y":4.95},{"s":"d","g":5,"x":0.0581,"y":4.76},{"s":"d","g":5,"x":0.0855,"y":4.46},{"s":"d","g":5,"x":0.1258,"y":4.1},{"s":"d","g":5,"x":0.1851,"y":3.79},{"s":"d","g":5,"x":0.2723,"y":3.5},{"s":"d","g":5,"x":0.4007,"y":3.14},{"s":"d","g":5,"x":0.5895,"y":2.68},{"s":"d","g":5,"x":0.8674,"y":2.3},{"s":"d","g":5,"x":1.276,"y":2.0},
{"s":"d","g":6,"x":0.0221,"y":4.95},{"s":"d","g":6,"x":0.0268,"y":4.91},{"s":"d","g":6,"x":0.0326,"y":4.88},{"s":"d","g":6,"x":0.0395,"y":4.85},{"s":"d","g":6,"x":0.0581,"y":4.68},{"s":"d","g":6,"x":0.0855,"y":4.4},{"s":"d","g":6,"x":0.1258,"y":4.04},{"s":"d","g":6,"x":0.1851,"y":3.7},{"s":"d","g":6,"x":0.2723,"y":3.42},{"s":"d","g":6,"x":0.4007,"y":3.06},{"s":"d","g":6,"x":0.5895,"y":2.6},{"s":"d","g":6,"x":0.8674,"y":2.18},{"s":"d","g":6,"x":1.276,"y":1.9},
{"s":"d","g":7,"x":0.0221,"y":4.88},{"s":"d","g":7,"x":0.0268,"y":4.85},{"s":"d","g":7,"x":0.0326,"y":4.8},{"s":"d","g":7,"x":0.0395,"y":4.78},{"s":"d","g":7,"x":0.0581,"y":4.62},{"s":"d","g":7,"x":0.0855,"y":4.34},{"s":"d","g":7,"x":0.1258,"y":3.97},{"s":"d","g":7,"x":0.1851,"y":3.62},{"s":"d","g":7,"x":0.2723,"y":3.3},{"s":"d","g":7,"x":0.4007,"y":2.9},{"s":"d","g":7,"x":0.5895,"y":2.35},{"s":"d","g":7,"x":0.8674,"y":1.95},{"s":"d","g":7,"x":1.276,"y":1.66},
{"s":"b","x":0.0221,"y":3.36},{"s":"b","x":0.0268,"y":3.333},{"s":"b","x":0.0326,"y":3.083},{"s":"b","x":0.0395,"y":2.954},{"s":"b","x":0.0479,"y":2.889},{"s":"b","x":0.0581,"y":2.806},{"s":"b","x":0.0705,"y":2.676},{"s":"b","x":0.0855,"y":2.593},{"s":"b","x":0.1037,"y":2.509},{"s":"b","x":0.1258,"y":2.352},{"s":"b","x":0.1526,"y":2.287},{"s":"b","x":0.1851,"y":2.111},{"s":"b","x":0.2245,"y":1.963},{"s":"b","x":0.2723,"y":1.833},{"s":"b","x":0.3303,"y":1.657},{"s":"b","x":0.4007,"y":1.481},{"s":"b","x":0.486,"y":1.259},{"s":"b","x":0.5895,"y":1.037},{"s":"b","x":0.7151,"y":0.861},{"s":"b","x":0.8674,"y":0.694},{"s":"b","x":1.0521,"y":0.435},{"s":"b","x":1.276,"y":0.18},
{"s":"e","x":0.0221,"y":5.3},{"s":"e","x":0.0268,"y":5.259},{"s":"e","x":0.0326,"y":5.12},{"s":"e","x":0.0395,"y":5.046},{"s":"e","x":0.0479,"y":4.926},{"s":"e","x":0.0581,"y":4.833},{"s":"e","x":0.0705,"y":4.694},{"s":"e","x":0.0855,"y":4.528},{"s":"e","x":0.1037,"y":4.352},{"s":"e","x":0.1258,"y":4.167},{"s":"e","x":0.1526,"y":4.0},{"s":"e","x":0.1851,"y":3.843},{"s":"e","x":0.2245,"y":3.722},{"s":"e","x":0.2723,"y":3.546},{"s":"e","x":0.3303,"y":3.352},{"s":"e","x":0.4007,"y":3.176},{"s":"e","x":0.486,"y":3.009},{"s":"e","x":0.5895,"y":2.796},{"s":"e","x":0.7151,"y":2.593},{"s":"e","x":0.8674,"y":2.38},{"s":"e","x":1.0521,"y":2.204},{"s":"e","x":1.276,"y":2.1},
{"s":"c","x":0.0221,"y":3.81},{"s":"c","x":0.05,"y":3.32},{"s":"c","x":0.1,"y":2.91},{"s":"c","x":0.2,"y":2.5},{"s":"c","x":0.5,"y":1.95},{"s":"c","x":1.0,"y":1.54},{"s":"c","x":1.276,"y":1.39}
]
},
"columns":2,
"spacing":{"row":55,"column":93},
"bounds":"flush",
"resolve":{"scale":{"color":"independent","strokeDash":"independent","strokeWidth":"independent"}},
"concat":[
{"width":577,"height":287,"data":{"name":"n"},
"encoding":{
"x":{"field":"x","type":"quantitative","scale":{"type":"log","domain":[0.02522,1.188],"nice":false},"axis":{"title":"log R/R₂₀₀","values":[0.03,0.04,0.05,0.06,0.07,0.08,0.09,0.1,0.2,0.3,0.4,0.5,0.6,0.7,0.8,0.9,1],"labelExpr":"indexof([0.03,0.1,0.3,1],datum.value)>=0 ? format(datum.value,'.2f') : ''","tickSize":{"condition":{"test":"indexof([0.03,0.1,0.3,1],datum.value)>=0","value":4.5},"value":2.5}}},
"y":{"field":"y","type":"quantitative","scale":{"domain":[-6.51,-0.515],"nice":false,"zero":false},"axis":{"title":"log nH (cm⁻³)","values":[-6,-5,-4,-3,-2,-1],"format":"d"}}},
"layer":[
{"transform":[{"filter":"datum.s=='a'||datum.s=='d'"}],"mark":{"type":"line","clip":true},"encoding":{
"color":{"field":"s","type":"nominal","title":null,"scale":{"type":"ordinal","domain":["a","d","b","e","c"],"range":["#ff8080","#e8a8e8","#ff0000","#bf00bf","#008000"]},"legend":{"labelExpr":"datum.value=='a'?'Hot, low-z':datum.value=='b'?'Median, low-z':datum.value=='c'?'Faerman model':datum.value=='d'?'Hot, high-z':'Median, high-z'","encode":{"symbols":{"update":{"shape":{"signal":"datum.value=='b'||datum.value=='e'?'M-1,0H7.34M3.87,0A0.7,0.7,0,1,1,2.47,0A0.7,0.7,0,1,1,3.87,0':'M-1,0H7.34'"},"fill":{"signal":"datum.value=='b'?'#ff0000':'transparent'"}}}}}},
"strokeDash":{"field":"s","type":"nominal","title":null,"scale":{"type":"ordinal","domain":["a","d","b","e","c"],"range":[[1,0],[1.2,1.8],[1,0],[2.5,4],[7,3.5]]}},
"strokeWidth":{"field":"s","type":"nominal","title":null,"scale":{"type":"ordinal","domain":["a","d","b","e","c"],"range":[1,1,2.5,2.5,2.2]}},
"detail":{"field":"g","type":"nominal"}}},
{"transform":[{"filter":"datum.s=='b'||datum.s=='e'"}],"mark":{"type":"line","clip":true},"encoding":{
"color":{"field":"s","type":"nominal","title":null,"scale":{"type":"ordinal","domain":["a","d","b","e","c"],"range":["#ff8080","#e8a8e8","#ff0000","#bf00bf","#008000"]}},
"strokeDash":{"field":"s","type":"nominal","title":null,"scale":{"type":"ordinal","domain":["a","d","b","e","c"],"range":[[1,0],[1.2,1.8],[1,0],[2.5,4],[7,3.5]]}},
"strokeWidth":{"field":"s","type":"nominal","title":null,"scale":{"type":"ordinal","domain":["a","d","b","e","c"],"range":[1,1,2.5,2.5,2.2]}}}},
{"transform":[{"filter":"datum.s=='c'"}],"mark":{"type":"line","clip":true},"encoding":{
"color":{"field":"s","type":"nominal","title":null,"scale":{"type":"ordinal","domain":["a","d","b","e","c"],"range":["#ff8080","#e8a8e8","#ff0000","#bf00bf","#008000"]}},
"strokeDash":{"field":"s","type":"nominal","title":null,"scale":{"type":"ordinal","domain":["a","d","b","e","c"],"range":[[1,0],[1.2,1.8],[1,0],[2.5,4],[7,3.5]]}},
"strokeWidth":{"field":"s","type":"nominal","title":null,"scale":{"type":"ordinal","domain":["a","d","b","e","c"],"range":[1,1,2.5,2.5,2.2]}}}},
{"transform":[{"filter":"datum.s=='b'&&datum.x>0.025&&datum.x<1.2"}],"mark":{"type":"point","filled":true,"color":"#ff0000","size":30,"opacity":1}},
{"transform":[{"filter":"datum.s=='e'&&datum.x>0.025&&datum.x<1.2"}],"mark":{"type":"point","filled":false,"color":"#bf00bf","size":34,"strokeWidth":1.2,"opacity":1}}
]},
{"width":577,"height":287,"data":{"name":"t"},
"encoding":{
"x":{"field":"x","type":"quantitative","scale":{"type":"log","domain":[0.02522,1.188],"nice":false},"axis":{"title":"log R/R₂₀₀","values":[0.03,0.04,0.05,0.06,0.07,0.08,0.09,0.1,0.2,0.3,0.4,0.5,0.6,0.7,0.8,0.9,1],"labelExpr":"indexof([0.03,0.1,0.3,1],datum.value)>=0 ? format(datum.value,'.2f') : ''","tickSize":{"condition":{"test":"indexof([0.03,0.1,0.3,1],datum.value)>=0","value":4.5},"value":2.5}}},
"y":{"field":"y","type":"quantitative","scale":{"domain":[4.806,7.193],"nice":false,"zero":false},"axis":{"title":"log Temperature (K)","values":[5,5.5,6,6.5,7],"format":".1f"}}},
"layer":[
{"transform":[{"filter":"datum.s=='a'||datum.s=='d'"}],"mark":{"type":"line","clip":true},"encoding":{
"color":{"field":"s","type":"nominal","legend":null,"scale":{"type":"ordinal","domain":["a","d","b","e","c"],"range":["#ff8080","#e8a8e8","#ff0000","#bf00bf","#008000"]}},
"strokeDash":{"field":"s","type":"nominal","legend":null,"scale":{"type":"ordinal","domain":["a","d","b","e","c"],"range":[[1,0],[1.2,1.8],[1,0],[2.5,4],[7,3.5]]}},
"strokeWidth":{"field":"s","type":"nominal","legend":null,"scale":{"type":"ordinal","domain":["a","d","b","e","c"],"range":[1,1,2.5,2.5,2.2]}},
"detail":{"field":"g","type":"nominal"}}},
{"transform":[{"filter":"datum.s=='b'||datum.s=='e'"}],"mark":{"type":"line","clip":true},"encoding":{
"color":{"field":"s","type":"nominal","legend":null,"scale":{"type":"ordinal","domain":["a","d","b","e","c"],"range":["#ff8080","#e8a8e8","#ff0000","#bf00bf","#008000"]}},
"strokeDash":{"field":"s","type":"nominal","legend":null,"scale":{"type":"ordinal","domain":["a","d","b","e","c"],"range":[[1,0],[1.2,1.8],[1,0],[2.5,4],[7,3.5]]}},
"strokeWidth":{"field":"s","type":"nominal","legend":null,"scale":{"type":"ordinal","domain":["a","d","b","e","c"],"range":[1,1,2.5,2.5,2.2]}}}},
{"transform":[{"filter":"datum.s=='c'"}],"mark":{"type":"line","clip":true},"encoding":{
"color":{"field":"s","type":"nominal","legend":null,"scale":{"type":"ordinal","domain":["a","d","b","e","c"],"range":["#ff8080","#e8a8e8","#ff0000","#bf00bf","#008000"]}},
"strokeDash":{"field":"s","type":"nominal","legend":null,"scale":{"type":"ordinal","domain":["a","d","b","e","c"],"range":[[1,0],[1.2,1.8],[1,0],[2.5,4],[7,3.5]]}},
"strokeWidth":{"field":"s","type":"nominal","legend":null,"scale":{"type":"ordinal","domain":["a","d","b","e","c"],"range":[1,1,2.5,2.5,2.2]}}}},
{"transform":[{"filter":"datum.s=='b'&&datum.x>0.025&&datum.x<1.2"}],"mark":{"type":"point","filled":true,"color":"#ff0000","size":30,"opacity":1}},
{"transform":[{"filter":"datum.s=='e'&&datum.x>0.025&&datum.x<1.2"}],"mark":{"type":"point","filled":false,"color":"#bf00bf","size":34,"strokeWidth":1.2,"opacity":1}}
]},
{"width":577,"height":287,"data":{"name":"k"},
"encoding":{
"x":{"field":"x","type":"quantitative","scale":{"type":"log","domain":[0.02522,1.188],"nice":false},"axis":{"title":"log R/R₂₀₀","values":[0.03,0.04,0.05,0.06,0.07,0.08,0.09,0.1,0.2,0.3,0.4,0.5,0.6,0.7,0.8,0.9,1],"labelExpr":"indexof([0.03,0.1,0.3,1],datum.value)>=0 ? format(datum.value,'.2f') : ''","tickSize":{"condition":{"test":"indexof([0.03,0.1,0.3,1],datum.value)>=0","value":4.5},"value":2.5}}},
"y":{"field":"y","type":"quantitative","scale":{"domain":[-0.2,2.667],"nice":false,"zero":false},"axis":{"title":"log Entropy (keV cm²)","values":[0,0.5,1,1.5,2,2.5],"format":".1f"}}},
"layer":[
{"transform":[{"filter":"datum.s=='a'||datum.s=='d'"}],"mark":{"type":"line","clip":true},"encoding":{
"color":{"field":"s","type":"nominal","legend":null,"scale":{"type":"ordinal","domain":["a","d","b","e","c"],"range":["#ff8080","#e8a8e8","#ff0000","#bf00bf","#008000"]}},
"strokeDash":{"field":"s","type":"nominal","legend":null,"scale":{"type":"ordinal","domain":["a","d","b","e","c"],"range":[[1,0],[1.2,1.8],[1,0],[2.5,4],[7,3.5]]}},
"strokeWidth":{"field":"s","type":"nominal","legend":null,"scale":{"type":"ordinal","domain":["a","d","b","e","c"],"range":[1,1,2.5,2.5,2.2]}},
"detail":{"field":"g","type":"nominal"}}},
{"transform":[{"filter":"datum.s=='b'||datum.s=='e'"}],"mark":{"type":"line","clip":true},"encoding":{
"color":{"field":"s","type":"nominal","legend":null,"scale":{"type":"ordinal","domain":["a","d","b","e","c"],"range":["#ff8080","#e8a8e8","#ff0000","#bf00bf","#008000"]}},
"strokeDash":{"field":"s","type":"nominal","legend":null,"scale":{"type":"ordinal","domain":["a","d","b","e","c"],"range":[[1,0],[1.2,1.8],[1,0],[2.5,4],[7,3.5]]}},
"strokeWidth":{"field":"s","type":"nominal","legend":null,"scale":{"type":"ordinal","domain":["a","d","b","e","c"],"range":[1,1,2.5,2.5,2.2]}}}},
{"transform":[{"filter":"datum.s=='c'"}],"mark":{"type":"line","clip":true},"encoding":{
"color":{"field":"s","type":"nominal","legend":null,"scale":{"type":"ordinal","domain":["a","d","b","e","c"],"range":["#ff8080","#e8a8e8","#ff0000","#bf00bf","#008000"]}},
"strokeDash":{"field":"s","type":"nominal","legend":null,"scale":{"type":"ordinal","domain":["a","d","b","e","c"],"range":[[1,0],[1.2,1.8],[1,0],[2.5,4],[7,3.5]]}},
"strokeWidth":{"field":"s","type":"nominal","legend":null,"scale":{"type":"ordinal","domain":["a","d","b","e","c"],"range":[1,1,2.5,2.5,2.2]}}}},
{"transform":[{"filter":"datum.s=='b'&&datum.x>0.025&&datum.x<1.2"}],"mark":{"type":"point","filled":true,"color":"#ff0000","size":30,"opacity":1}},
{"transform":[{"filter":"datum.s=='e'&&datum.x>0.025&&datum.x<1.2"}],"mark":{"type":"point","filled":false,"color":"#bf00bf","size":34,"strokeWidth":1.2,"opacity":1}}
]},
{"width":577,"height":287,"data":{"name":"p"},
"encoding":{
"x":{"field":"x","type":"quantitative","scale":{"type":"log","domain":[0.02522,1.188],"nice":false},"axis":{"title":"log R/R₂₀₀","values":[0.03,0.04,0.05,0.06,0.07,0.08,0.09,0.1,0.2,0.3,0.4,0.5,0.6,0.7,0.8,0.9,1],"labelExpr":"indexof([0.03,0.1,0.3,1],datum.value)>=0 ? format(datum.value,'.2f') : ''","tickSize":{"condition":{"test":"indexof([0.03,0.1,0.3,1],datum.value)>=0","value":4.5},"value":2.5}}},
"y":{"field":"y","type":"quantitative","scale":{"domain":[-0.49,7.47],"nice":false,"zero":false},"axis":{"title":"log Pressure (K cm⁻³)","values":[0,1,2,3,4,5,6,7],"format":"d"}}},
"layer":[
{"transform":[{"filter":"datum.s=='a'||datum.s=='d'"}],"mark":{"type":"line","clip":true},"encoding":{
"color":{"field":"s","type":"nominal","legend":null,"scale":{"type":"ordinal","domain":["a","d","b","e","c"],"range":["#ff8080","#e8a8e8","#ff0000","#bf00bf","#008000"]}},
"strokeDash":{"field":"s","type":"nominal","legend":null,"scale":{"type":"ordinal","domain":["a","d","b","e","c"],"range":[[1,0],[1.2,1.8],[1,0],[2.5,4],[7,3.5]]}},
"strokeWidth":{"field":"s","type":"nominal","legend":null,"scale":{"type":"ordinal","domain":["a","d","b","e","c"],"range":[1,1,2.5,2.5,2.2]}},
"detail":{"field":"g","type":"nominal"}}},
{"transform":[{"filter":"datum.s=='b'||datum.s=='e'"}],"mark":{"type":"line","clip":true},"encoding":{
"color":{"field":"s","type":"nominal","legend":null,"scale":{"type":"ordinal","domain":["a","d","b","e","c"],"range":["#ff8080","#e8a8e8","#ff0000","#bf00bf","#008000"]}},
"strokeDash":{"field":"s","type":"nominal","legend":null,"scale":{"type":"ordinal","domain":["a","d","b","e","c"],"range":[[1,0],[1.2,1.8],[1,0],[2.5,4],[7,3.5]]}},
"strokeWidth":{"field":"s","type":"nominal","legend":null,"scale":{"type":"ordinal","domain":["a","d","b","e","c"],"range":[1,1,2.5,2.5,2.2]}}}},
{"transform":[{"filter":"datum.s=='c'"}],"mark":{"type":"line","clip":true},"encoding":{
"color":{"field":"s","type":"nominal","legend":null,"scale":{"type":"ordinal","domain":["a","d","b","e","c"],"range":["#ff8080","#e8a8e8","#ff0000","#bf00bf","#008000"]}},
"strokeDash":{"field":"s","type":"nominal","legend":null,"scale":{"type":"ordinal","domain":["a","d","b","e","c"],"range":[[1,0],[1.2,1.8],[1,0],[2.5,4],[7,3.5]]}},
"strokeWidth":{"field":"s","type":"nominal","legend":null,"scale":{"type":"ordinal","domain":["a","d","b","e","c"],"range":[1,1,2.5,2.5,2.2]}}}},
{"transform":[{"filter":"datum.s=='b'&&datum.x>0.025&&datum.x<1.2"}],"mark":{"type":"point","filled":true,"color":"#ff0000","size":30,"opacity":1}},
{"transform":[{"filter":"datum.s=='e'&&datum.x>0.025&&datum.x<1.2"}],"mark":{"type":"point","filled":false,"color":"#bf00bf","size":34,"strokeWidth":1.2,"opacity":1}}
]}
]
}
